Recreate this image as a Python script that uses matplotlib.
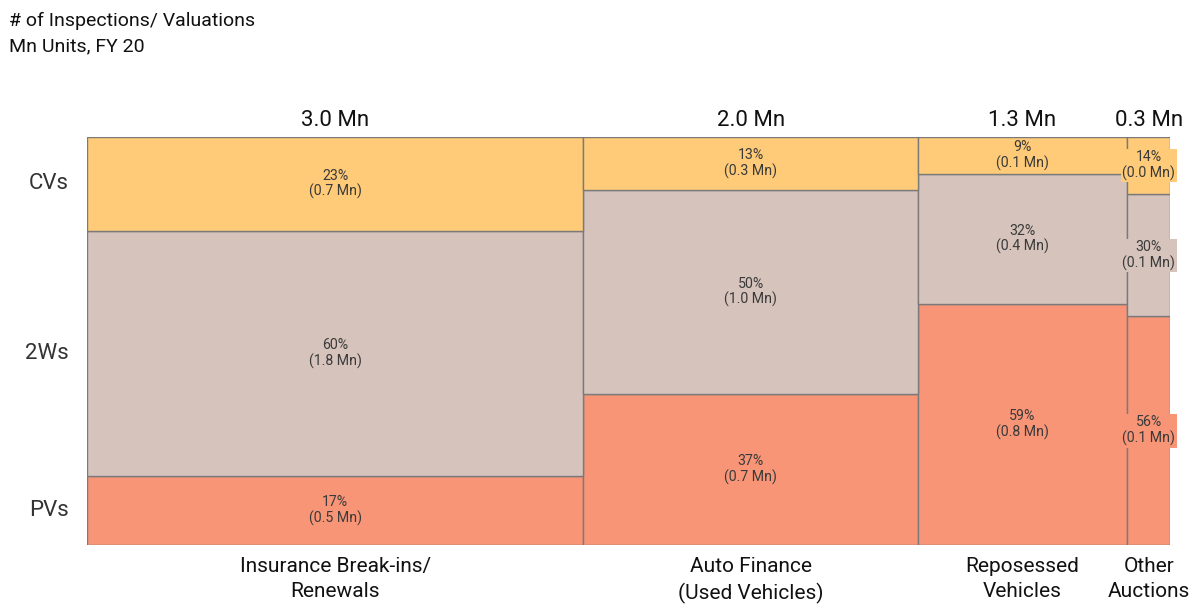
import numpy as np
import matplotlib.pyplot as plt

plt.rcParams['font.family'] = ['Roboto', 'DejaVu Sans']

# column totals (Mn units) and labels
channels = ["Insurance Break-ins/\nRenewals", "Auto Finance\n(Used Vehicles)",
            "Reposessed\nVehicles", "Other\nAuctions"]
totals = [3.03, 2.04, 1.28, 0.26]
total_labels = ["3.0 Mn", "2.0 Mn", "1.3 Mn", "0.3 Mn"]

# segment shares (%), bottom to top
segments = ["PVs", "2Ws", "CVs"]
pvs = [17, 37, 59, 56]
tws = [60, 50, 32, 30]
cvs = [23, 13, 9, 14]
pvs_mn = ["0.5", "0.7", "0.8", "0.1"]
tws_mn = ["1.8", "1.0", "0.4", "0.1"]
cvs_mn = ["0.7", "0.3", "0.1", "0.0"]

colors = {"PVs": "#F89577", "2Ws": "#D6C4BC", "CVs": "#FFCB78"}
edge = "#7a7a7a"
txt = "#3a3a3a"

fig = plt.figure(figsize=(12, 6.05), dpi=100)
ax = fig.add_axes([0.0725, 0.0992, 0.9025, 0.6744])

lefts = np.concatenate([[0], np.cumsum(totals)[:-1]])
widths = np.array(totals)
series = {"PVs": (pvs, pvs_mn), "2Ws": (tws, tws_mn), "CVs": (cvs, cvs_mn)}

bottom = np.zeros(len(totals))
for seg in segments:
    vals, mns = series[seg]
    vals = np.array(vals, dtype=float)
    ax.bar(lefts, vals, width=widths, bottom=bottom, align='edge',
           color=colors[seg], edgecolor=edge, linewidth=1.0)
    for i in range(len(totals)):
        cx = lefts[i] + widths[i] / 2
        cy = bottom[i] + vals[i] / 2
        kw = {}
        if i == len(totals) - 1:
            kw['bbox'] = dict(boxstyle='square,pad=0.1', fc=colors[seg], ec='none')
        ax.text(cx, cy, f"{int(vals[i])}%\n({mns[i]} Mn)", ha='center', va='center',
                fontsize=10.2, color=txt, linespacing=1.12, **kw)
    bottom += vals

# totals on top
for i in range(len(totals)):
    ax.text(lefts[i] + widths[i] / 2, 101.5, total_labels[i], ha='center', va='bottom',
            fontsize=16, color='#111111')

# category labels below
for i in range(len(totals)):
    ax.text(lefts[i] + widths[i] / 2, -3.0, channels[i], ha='center', va='top',
            fontsize=15, color='#111111', linespacing=1.38)

# row labels on the left, centred on first column segments
b0 = 0
for seg in segments:
    v = series[seg][0][0]
    ax.text(-0.11, b0 + v / 2, seg, ha='right', va='center', fontsize=16, color='#333333')
    b0 += v

ax.set_xlim(0, sum(totals))
ax.set_ylim(0, 100)
ax.axis('off')

fig.text(0.0075, 0.965, "# of Inspections/ Valuations", fontsize=14, color='#111111', va='center')
fig.text(0.0075, 0.924, "Mn Units, FY 20", fontsize=14, color='#111111', va='center')

fig.savefig("out.png", dpi=100)
